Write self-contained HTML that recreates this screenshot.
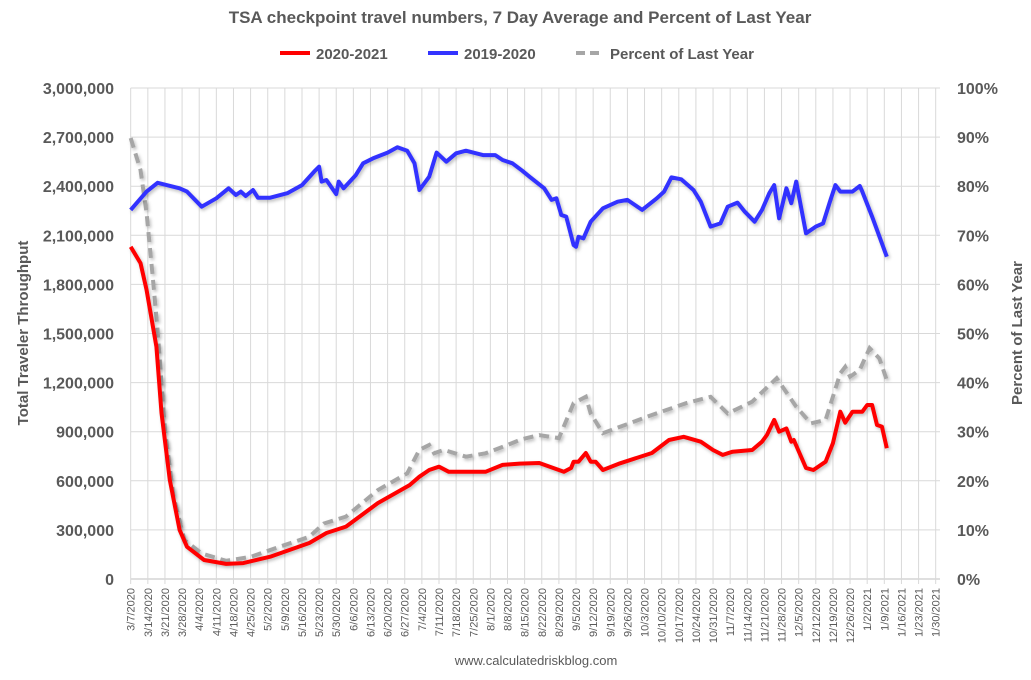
<!DOCTYPE html>
<html><head><meta charset="utf-8"><style>
body{margin:0;background:#fff;}
svg text{font-family:"Liberation Sans",sans-serif;fill:#595959;}
</style></head><body>
<svg id="chart" width="1031" height="675" xmlns="http://www.w3.org/2000/svg">
<defs><filter id="sh" x="-5%" y="-5%" width="110%" height="110%"><feDropShadow dx="1.5" dy="2" stdDeviation="1.5" flood-color="#000" flood-opacity="0.25"/></filter></defs>
<text x="520" y="23" text-anchor="middle" font-size="17" font-weight="bold">TSA checkpoint travel numbers, 7 Day Average and Percent of Last Year</text>
<g>
<line x1="280" y1="53" x2="310" y2="53" stroke="#ff0000" stroke-width="4"/>
<text x="316" y="59" font-size="15" font-weight="bold">2020-2021</text>
<line x1="428" y1="53" x2="458" y2="53" stroke="#3333ff" stroke-width="4"/>
<text x="464" y="59" font-size="15" font-weight="bold">2019-2020</text>
<line x1="576" y1="53" x2="604" y2="53" stroke="#a6a6a6" stroke-width="4" stroke-dasharray="9,5"/>
<text x="610" y="59" font-size="15" font-weight="bold">Percent of Last Year</text>
</g>
<g id="grid"></g>
<g id="axes"></g>
<g id="series"></g>
<text transform="translate(28,333) rotate(-90)" text-anchor="middle" font-size="15" font-weight="bold">Total Traveler Throughput</text>
<text transform="translate(1022,333) rotate(-90)" text-anchor="middle" font-size="15" font-weight="bold">Percent of Last Year</text>
<text x="536" y="665" text-anchor="middle" font-size="13">www.calculatedriskblog.com</text>
</svg>
<script>
const weekLabels=["3/7/2020","3/14/2020","3/21/2020","3/28/2020","4/4/2020","4/11/2020","4/18/2020","4/25/2020","5/2/2020","5/9/2020","5/16/2020","5/23/2020","5/30/2020","6/6/2020","6/13/2020","6/20/2020","6/27/2020","7/4/2020","7/11/2020","7/18/2020","7/25/2020","8/1/2020","8/8/2020","8/15/2020","8/22/2020","8/29/2020","9/5/2020","9/12/2020","9/19/2020","9/26/2020","10/3/2020","10/10/2020","10/17/2020","10/24/2020","10/31/2020","11/7/2020","11/14/2020","11/21/2020","11/28/2020","12/5/2020","12/12/2020","12/19/2020","12/26/2020","1/2/2021","1/9/2021","1/16/2021","1/23/2021","1/30/2021"];
const leftTicks=[0,300000,600000,900000,1200000,1500000,1800000,2100000,2400000,2700000,3000000];
const rightTicks=[0,10,20,30,40,50,60,70,80,90,100];
const redDays=[0,4,6.5,10.5,12.6,16,20,23,30,39,46,57,73,80,88,101,114,118,122,126,130,145,152,159,167,177,180,181,183,186,188,190,193,200,213,220,226,233,238,242,246,254,258,260,263,265,268,270,271,276,279,284,287,290,292,295,299,301,303,305,307,309];
const redVals=[2030,1930,1765,1420,1015,605,300,197,116,92,97,136,220,281,320,464,574,625,666,686,655,655,697,705,709,655,678,717,717,770,717,717,666,707,770,849,869,839,788,758,778,788,839,880,972,900,920,839,849,678,666,717,829,1022,955,1022,1022,1063,1063,941,931,799];
const blueDays=[0,6.5,11,20,23,29,35,40,43,45,47,50,52,57,64,70,75,77,78,80,84,85,87,92,95,99,105,109,113,116,118,122,125,129,133,137,144,149,152,156,160,163,169,172,174,176,178,181,182,183,185,188,193,199,203,209,215,218,221,225,230,233,237,241,244,248,251,255,258,261,263,265,268,270,272,276,280,283,286,288,290,295,298,299,303,309];
const blueVals=[2255,2367,2421,2387,2367,2275,2326,2387,2346,2367,2340,2377,2330,2330,2357,2407,2489,2519,2428,2438,2352,2428,2387,2468,2540,2570,2605,2638,2617,2540,2377,2458,2605,2550,2601,2617,2590,2590,2560,2540,2495,2458,2387,2316,2326,2224,2214,2041,2030,2091,2081,2183,2265,2305,2316,2255,2326,2367,2454,2442,2377,2305,2153,2173,2275,2300,2244,2183,2255,2357,2407,2204,2387,2296,2428,2112,2153,2173,2316,2407,2367,2367,2401,2367,2214,1969];
const pctDays=[0,4,6.5,9,11,14,17.5,22,29,39,49,61,73,79,88,101,113,118,122,124,128,137,145,152,160,167,175,181,186,188,193,200,213,227,237,244,254,264,272,278,284,290,292,294,298,302,306,309];
const pctVals=[89.8,83.3,74.5,61.6,50.7,30.3,16.8,7.9,5.2,3.7,4.5,6.6,8.6,11.3,12.7,18.1,21.5,26.3,27.3,25.6,26.3,24.9,25.6,26.9,28.5,29.3,28.7,35.8,37.1,33.7,29.7,31,33.4,35.8,37.1,33.7,36.1,40.9,35.1,31.7,32.4,41.9,43.2,41.2,42.6,47,44.9,40.5];

const X0=130.7, PXDAY=(935.7-130.7)/329, YB=579, YT=88, XR=940;
const xs=d=>X0+d*PXDAY;
const yl=v=>YB-(v/3000000)*(YB-YT);
const yr=p=>YB-(p/100)*(YB-YT);
const NS="http://www.w3.org/2000/svg";
function mk(tag,attrs,parent){const e=document.createElementNS(NS,tag);for(const k in attrs)e.setAttribute(k,attrs[k]);parent.appendChild(e);return e;}
const grid=document.getElementById('grid'),axes=document.getElementById('axes'),series=document.getElementById('series');
leftTicks.forEach((t,i)=>{
  const y=yl(t);
  const l=mk('line',{x1:X0,x2:XR,y1:y,y2:y,stroke:i==0?'#bfbfbf':'#d9d9d9','stroke-width':1},grid);
  
  
  const tx=mk('text',{x:114,y:y+6,'text-anchor':'end','font-size':16,'font-weight':'bold'},axes);
  tx.textContent=t.toLocaleString('en-US');
  
  
});
rightTicks.forEach(p=>{
  const tx=mk('text',{x:957,y:yr(p)+6,'font-size':16,'font-weight':'bold'},axes);
  tx.textContent=p+'%';
  
  
});
weekLabels.forEach((lab,i)=>{
  const x=xs(i*7);
  const l=mk('line',{x1:x,x2:x,y1:YT,y2:YB+5,stroke:'#d9d9d9','stroke-width':1},grid);
  
  
  const tx=mk('text',{transform:`translate(${x+4},588) rotate(-90)`,'text-anchor':'end','font-size':11},axes);
  tx.textContent=lab;
  
  
});
function path(days,vals,yf){return days.map((d,i)=>(i?'L':'M')+xs(d).toFixed(1)+','+yf(vals[i]).toFixed(1)).join(' ');}
const pg=mk('path',{d:path(pctDays,pctVals,yr),fill:'none',stroke:'#a6a6a6','stroke-width':4,'stroke-dasharray':'10,6',filter:'url(#sh)'},series);


const pb=mk('path',{d:path(blueDays,blueVals,v=>yl(v*1000)),fill:'none',stroke:'#3333ff','stroke-width':4,'stroke-linejoin':'round',filter:'url(#sh)'},series);


const pr=mk('path',{d:path(redDays,redVals,v=>yl(v*1000)),fill:'none',stroke:'#ff0000','stroke-width':4,'stroke-linejoin':'round',filter:'url(#sh)'},series);


</script>
</body></html>
